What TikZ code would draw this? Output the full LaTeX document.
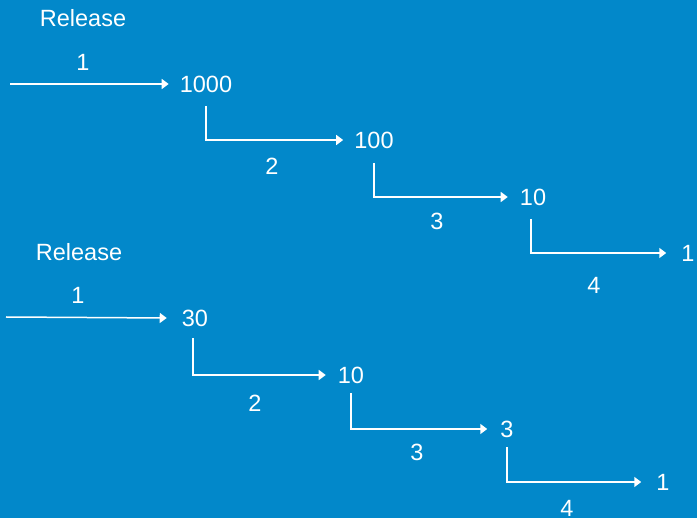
\documentclass[tikz,border=0pt]{standalone}
\usepackage{fontspec}
\setmainfont{Liberation Sans}
\usetikzlibrary{arrows.meta}
\definecolor{bgblue}{RGB}{2,136,202}
\begin{document}
\begin{tikzpicture}[x=1pt,y=-1pt,
  txt/.style={text=white,font=\fontsize{23.5}{27}\selectfont,inner sep=0pt,text height=17pt,text depth=0pt},
  num/.style={txt,inner xsep=11pt},
  line/.style={draw=white,line width=1.5pt},
  arr/.style={line,-{Triangle[length=7pt,width=10pt]}}]
\fill[bgblue] (0,0) rectangle (697,518);
\useasboundingbox (0,0) rectangle (697,518);
% top group
\node[txt] (rel1) at (83,18) {Release};
\node[txt] (l11) at (83,62) {1};
\coordinate (s1) at (10,84);
\node[num] (a1) at (206,84) {1000};
\node[txt] (l12) at (272,166) {2};
\node[num] (a2) at (374,140) {100};
\node[txt] (l13) at (437,221) {3};
\node[num,inner xsep=12pt] (a3) at (533,197) {10};
\node[txt] (l14) at (594,285) {4};
\node[num,inner xsep=15pt] (a4) at (688,253) {1};
\draw[arr] (s1) -- (a1.west);
\draw[arr] ([yshift=-22pt]a1.center) |- (a2.west);
\draw[arr] ([yshift=-23pt]a2.center) |- (a3.west);
\draw[arr] ([xshift=-2pt,yshift=-22pt]a3.center) |- (a4.west);
% bottom group
\node[txt] (rel2) at (79,252) {Release};
\node[txt] (l21) at (78,295) {1};
\coordinate (s2) at (6,317);
\node[num,inner xsep=15pt] (b1) at (195,318) {30};
\node[txt] (l22) at (255,403) {2};
\node[num,inner xsep=12pt] (b2) at (351,375) {10};
\node[num,inner xsep=13pt] (b3) at (507,429) {3};
\node[txt] (l23) at (417,452) {3};
\node[txt] (l24) at (567,508) {4};
\node[num,inner xsep=15pt] (b4) at (663,482) {1};
\draw[arr] (s2) -- (b1.west);
\draw[arr] ([xshift=-2pt,yshift=-20pt]b1.center) |- (b2.west);
\draw[arr] ([yshift=-18pt]b2.center) |- (b3.west);
\draw[arr] ([yshift=-18pt]b3.center) |- (b4.west);
\end{tikzpicture}
\end{document}
